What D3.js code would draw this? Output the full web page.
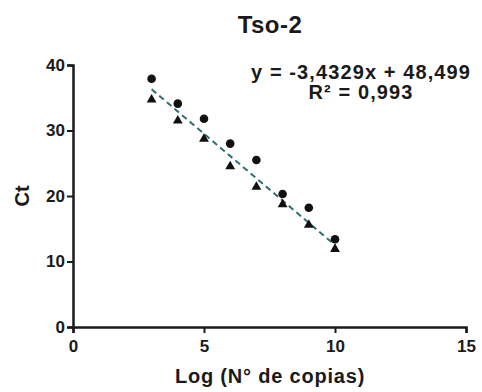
<!DOCTYPE html>
<html>
<head>
<meta charset="utf-8">
<script src="https://cdn.jsdelivr.net/npm/d3@7"></script>
<style>
    body { margin: 0; background: #fff; }
    text { font-family: "Liberation Sans", Arial, sans-serif; font-weight: bold; fill: #1a1a1a; }
</style>
</head>
<body>
<div id="chart"></div>
<script>
// data
const logCopies = [3, 4, 5, 6, 7, 8, 9, 10];
const ctCircles = [37.9, 34.1, 31.8, 28.0, 25.5, 20.3, 18.2, 13.4];
const ctTriangles = [34.7, 31.5, 28.7, 24.5, 21.4, 18.7, 15.6, 11.9];
const xTicks = [0, 5, 10, 15];
const yTicks = [0, 10, 20, 30, 40];
const fitLine = [[3, 36.3], [10, 12.5]];
const equationLines = ["y = -3,4329x + 48,499", "R\u00B2 = 0,993"];

const width = 482, height = 392;
const margin = {top: 65, right: 16, bottom: 65, left: 73};

const svg = d3.select("#chart").append("svg")
    .attr("width", width)
    .attr("height", height);

// scales
const x = d3.scaleLinear().domain([0, 15]).range([margin.left, width - margin.right]);
const y = d3.scaleLinear().domain([0, 40]).range([height - margin.bottom, margin.top]);

// title
svg.append("text")
    .attr("x", 270).attr("y", 33)
    .attr("text-anchor", "middle")
    .style("font-size", "24px")
    .style("letter-spacing", "0.5px")
    .text("Tso-2");

// axes
const xAxis = svg.append("g")
    .attr("transform", "translate(0," + y(0) + ")")
    .call(d3.axisBottom(x).tickValues(xTicks).tickSize(6).tickPadding(7));

const yAxis = svg.append("g")
    .attr("transform", "translate(" + x(0) + ",0)")
    .call(d3.axisLeft(y).tickValues(yTicks).tickSize(6).tickPadding(2));

[xAxis, yAxis].forEach(function (g) {
    g.select(".domain").attr("stroke", "#1a1a1a").attr("stroke-width", 2.5);
    g.selectAll(".tick line").attr("stroke", "#1a1a1a").attr("stroke-width", 2);
    g.selectAll(".tick text")
        .style("font-size", "17px")
        .style("font-family", "'Liberation Sans', Arial, sans-serif")
        .style("font-weight", "bold")
        .attr("fill", "#1a1a1a");
});

// axis labels
svg.append("text")
    .attr("x", 270).attr("y", 383)
    .attr("text-anchor", "middle")
    .style("font-size", "20px")
    .style("letter-spacing", "0.8px")
    .text("Log (N\u00B0 de copias)");

svg.append("text")
    .attr("transform", "translate(29," + y(20) + ") rotate(-90)")
    .attr("text-anchor", "middle")
    .style("font-size", "20px")
    .text("Ct");

// fit line
svg.append("path")
    .datum(fitLine)
    .attr("d", d3.line().x(d => x(d[0])).y(d => y(d[1])))
    .attr("fill", "none")
    .attr("stroke", "#2f6f72")
    .attr("stroke-width", 2)
    .attr("stroke-dasharray", "6,4");

// circles
svg.append("g").selectAll("circle")
    .data(logCopies)
    .enter().append("circle")
    .attr("cx", d => x(d))
    .attr("cy", (d, i) => y(ctCircles[i]))
    .attr("r", 4.3)
    .attr("fill", "#111");

// triangles
svg.append("g").selectAll("path")
    .data(logCopies)
    .enter().append("path")
    .attr("d", d3.symbol().type(d3.symbolTriangle).size(42))
    .attr("transform", (d, i) => "translate(" + x(d) + "," + y(ctTriangles[i]) + ")")
    .attr("fill", "#111");

// equation
svg.append("g").selectAll("text")
    .data(equationLines)
    .enter().append("text")
    .attr("x", 361)
    .attr("y", (d, i) => 79 + i * 20)
    .attr("text-anchor", "middle")
    .style("font-size", "20px")
    .style("letter-spacing", "1.1px")
    .text(d => d);
</script>
</body>
</html>
